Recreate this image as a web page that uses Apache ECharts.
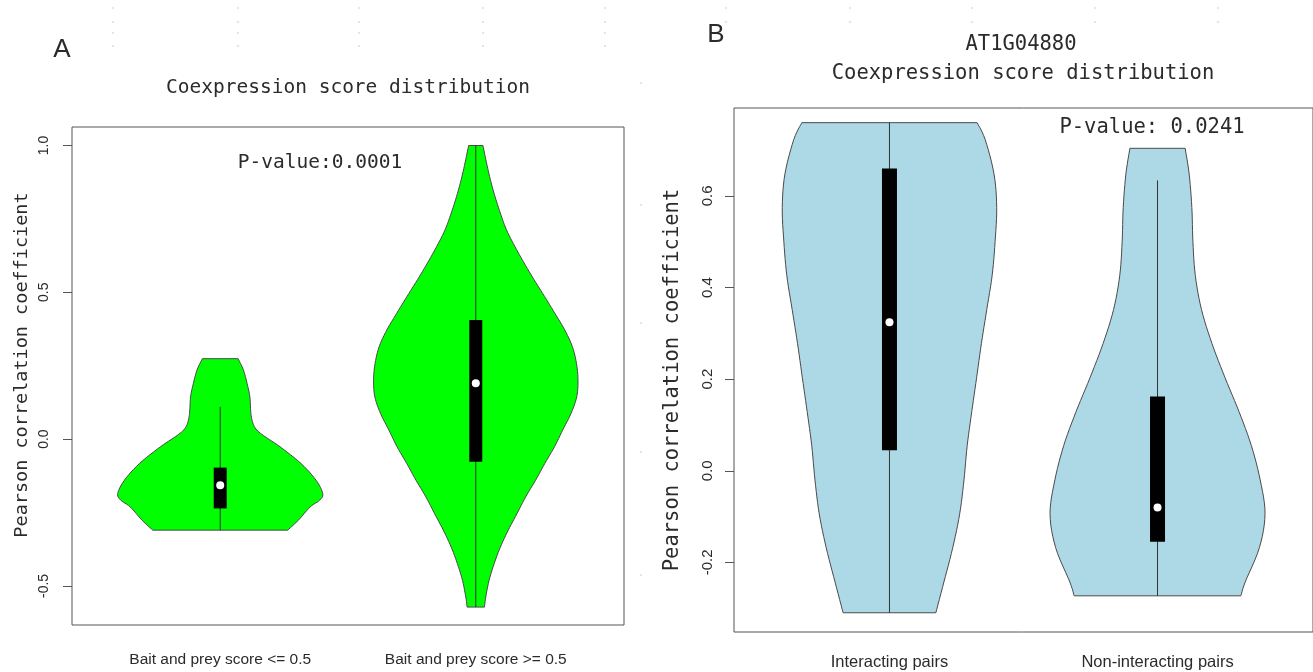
<!DOCTYPE html>
<html>
<head>
<meta charset="utf-8">
<script src="https://cdn.jsdelivr.net/npm/echarts@6/dist/echarts.min.js"></script>
<style>
  html, body { margin: 0; padding: 0; background: #fff; }
  #chart { width: 1313px; height: 672px; }
</style>
</head>
<body>
<div id="chart"></div>
<script>
// panel A
const categoriesA = ['Bait and prey score <= 0.5', 'Bait and prey score >= 0.5'];
const ticksA = [-0.5, 0, 0.5, 1.0];
// violin outlines: y levels (top to bottom) and half widths in category units
const levelsA1 = [0.274, 0.235, 0.19, 0.144, 0.088, 0.054, 0.031, 0.008, -0.026, -0.083, -0.14, -0.185, -0.208, -0.231, -0.276, -0.31];
const widthsA1 = [0.070, 0.091, 0.105, 0.116, 0.120, 0.128, 0.143, 0.176, 0.234, 0.316, 0.375, 0.401, 0.389, 0.352, 0.306, 0.264];
const levelsA2 = [1.0, 0.941, 0.884, 0.827, 0.77, 0.713, 0.656, 0.6, 0.543, 0.486, 0.429, 0.372, 0.315, 0.258, 0.201, 0.144, 0.088, 0.031, -0.026, -0.083, -0.14, -0.197, -0.254, -0.31, -0.368, -0.424, -0.481, -0.538, -0.572];
const widthsA2 = [0.028, 0.042, 0.057, 0.075, 0.096, 0.120, 0.153, 0.189, 0.228, 0.269, 0.309, 0.348, 0.378, 0.394, 0.400, 0.395, 0.373, 0.340, 0.308, 0.270, 0.234, 0.195, 0.161, 0.127, 0.096, 0.072, 0.052, 0.039, 0.034];
// [position, whisker low, q1, median, q3, whisker high]
const boxA1 = [1, -0.31, -0.236, -0.157, -0.097, 0.11];
const boxA2 = [2, -0.572, -0.077, 0.19, 0.406, 1.0];

// panel B
const categoriesB = ['Interacting pairs', 'Non-interacting pairs'];
const ticksB = [-0.2, 0, 0.2, 0.4, 0.6];
const levelsB1 = [0.76, 0.723, 0.648, 0.575, 0.5, 0.426, 0.352, 0.278, 0.203, 0.129, 0.055, -0.02, -0.094, -0.168, -0.243, -0.31];
const widthsB1 = [0.327, 0.357, 0.390, 0.400, 0.394, 0.383, 0.363, 0.343, 0.325, 0.307, 0.290, 0.278, 0.262, 0.236, 0.203, 0.173];
const levelsB2 = [0.704, 0.648, 0.575, 0.5, 0.426, 0.352, 0.278, 0.203, 0.129, 0.055, -0.02, -0.094, -0.168, -0.243, -0.273];
const widthsB2 = [0.103, 0.118, 0.128, 0.132, 0.141, 0.164, 0.203, 0.252, 0.304, 0.350, 0.383, 0.401, 0.380, 0.327, 0.311];
const boxB1 = [1, -0.31, 0.045, 0.324, 0.66, 0.76];
const boxB2 = [2, -0.273, -0.155, -0.08, 0.162, 0.634];

const textColor = '#2b2b2b';
const mono = 'DejaVu Sans Mono';
const sans = 'Liberation Sans';

// catmull-rom through the outline points, only to draw a smooth edge
function spline(pts, steps) {
  const out = [];
  for (let i = 0; i < pts.length - 1; i++) {
    const p0 = pts[Math.max(i - 1, 0)], p1 = pts[i], p2 = pts[i + 1], p3 = pts[Math.min(i + 2, pts.length - 1)];
    for (let s = 0; s < steps; s++) {
      const t = s / steps, t2 = t * t, t3 = t2 * t;
      out.push([0, 1].map(k => 0.5 * (2 * p1[k] + (p2[k] - p0[k]) * t +
        (2 * p0[k] - 5 * p1[k] + 4 * p2[k] - p3[k]) * t2 +
        (3 * p1[k] - p0[k] - 3 * p2[k] + p3[k]) * t3)));
    }
  }
  out.push(pts[pts.length - 1]);
  return out;
}

function violinRender(shapes, fill, boxHalf) {
  return function (params, api) {
    const s = shapes[params.dataIndex];
    const x = api.value(0);
    const right = spline(s.levels.map((y, i) => api.coord([x + s.widths[i], y])), 6);
    const left = spline(s.levels.map((y, i) => api.coord([x - s.widths[i], y])), 6).reverse();
    const lo = api.coord([x, api.value(1)]);
    const q1 = api.coord([x, api.value(2)]);
    const md = api.coord([x, api.value(3)]);
    const q3 = api.coord([x, api.value(4)]);
    const hi = api.coord([x, api.value(5)]);
    return {
      type: 'group',
      children: [
        { type: 'polygon', shape: { points: right.concat(left) }, style: { fill: fill, stroke: '#4a4a4a', lineWidth: 1 } },
        { type: 'line', shape: { x1: lo[0], y1: lo[1], x2: hi[0], y2: hi[1] }, style: { stroke: '#333', lineWidth: 1 } },
        { type: 'rect', shape: { x: q3[0] - boxHalf, y: q3[1], width: boxHalf * 2, height: q1[1] - q3[1] }, style: { fill: '#000' } },
        { type: 'circle', shape: { cx: md[0], cy: md[1], r: 4 }, style: { fill: '#fff' } }
      ]
    };
  };
}

function xAxisFor(idx, cats, margin, size) {
  return {
    gridIndex: idx, type: 'value', min: 0.42, max: 2.58,
    splitLine: { show: false }, axisLine: { show: false },
    axisTick: { show: true, customValues: [1, 2], length: 9, lineStyle: { color: '#555' } },
    axisLabel: { customValues: [1, 2], formatter: v => cats[Math.round(v) - 1], margin: margin,
      fontFamily: sans, fontSize: size, color: textColor }
  };
}

function yAxisFor(idx, min, max, ticks, margin, size) {
  return {
    gridIndex: idx, type: 'value', min: min, max: max,
    splitLine: { show: false }, axisLine: { show: false },
    axisTick: { show: true, customValues: ticks, length: 9, lineStyle: { color: '#555' } },
    axisLabel: { customValues: ticks, rotate: 90, formatter: v => v.toFixed(1), margin: margin,
      fontFamily: sans, fontSize: size, color: textColor }
  };
}

function label(text, x, y, font, size, rotation) {
  return { type: 'text', x: x, y: y, rotation: rotation || 0,
    style: { text: text, fontFamily: font, fontSize: size, fill: textColor, align: 'center', verticalAlign: 'middle' } };
}

const dots = [];
[113, 238, 359, 483, 605].forEach(x => [8, 22, 33, 46].forEach(y => dots.push([x, y])));
[726, 850, 972, 1095, 1218].forEach(x => [8, 22].forEach(y => dots.push([x, y])));
[83, 205, 323, 452, 575].forEach(y => dots.push([641, y]));

const chart = echarts.init(document.getElementById('chart'), null, { renderer: 'canvas' });
chart.setOption({
  backgroundColor: '#fff',
  animation: false,
  grid: [
    { left: 72, top: 127, width: 552, height: 498, show: true, borderColor: '#555', borderWidth: 1 },
    { left: 734, top: 108, width: 580, height: 524, show: true, borderColor: '#555', borderWidth: 1 }
  ],
  xAxis: [xAxisFor(0, categoriesA, 27, 15.5), xAxisFor(1, categoriesB, 22, 16.5)],
  yAxis: [yAxisFor(0, -0.633, 1.063, ticksA, 21, 14), yAxisFor(1, -0.352, 0.792, ticksB, 19, 15)],
  series: [
    {
      type: 'custom', xAxisIndex: 0, yAxisIndex: 0,
      renderItem: violinRender([{ levels: levelsA1, widths: widthsA1 }, { levels: levelsA2, widths: widthsA2 }], '#00ff00', 6.5),
      encode: { x: 0, y: [1, 2, 3, 4, 5] },
      data: [boxA1, boxA2]
    },
    {
      type: 'custom', xAxisIndex: 1, yAxisIndex: 1,
      renderItem: violinRender([{ levels: levelsB1, widths: widthsB1 }, { levels: levelsB2, widths: widthsB2 }], '#add8e6', 7.5),
      encode: { x: 0, y: [1, 2, 3, 4, 5] },
      data: [boxB1, boxB2]
    }
  ],
  graphic: dots.map(d => ({ type: 'circle', shape: { cx: d[0], cy: d[1], r: 0.8 }, style: { fill: '#c4c4c4' }, silent: true }))
    .concat([
      label('A', 62, 50, sans, 26),
      label('B', 716, 35, sans, 26),
      label('Coexpression score distribution', 348, 88, mono, 19.5),
      label('P-value:0.0001', 320, 163, mono, 19.5),
      label('Pearson correlation coefficient', 22, 365, mono, 18.5, Math.PI / 2),
      label('AT1G04880', 1021, 45, mono, 20.5),
      label('Coexpression score distribution', 1023, 74, mono, 20.5),
      label('P-value: 0.0241', 1152, 128, mono, 20.5),
      label('Pearson correlation coefficient', 673, 380, mono, 20.5, Math.PI / 2)
    ])
});
</script>
</body>
</html>
